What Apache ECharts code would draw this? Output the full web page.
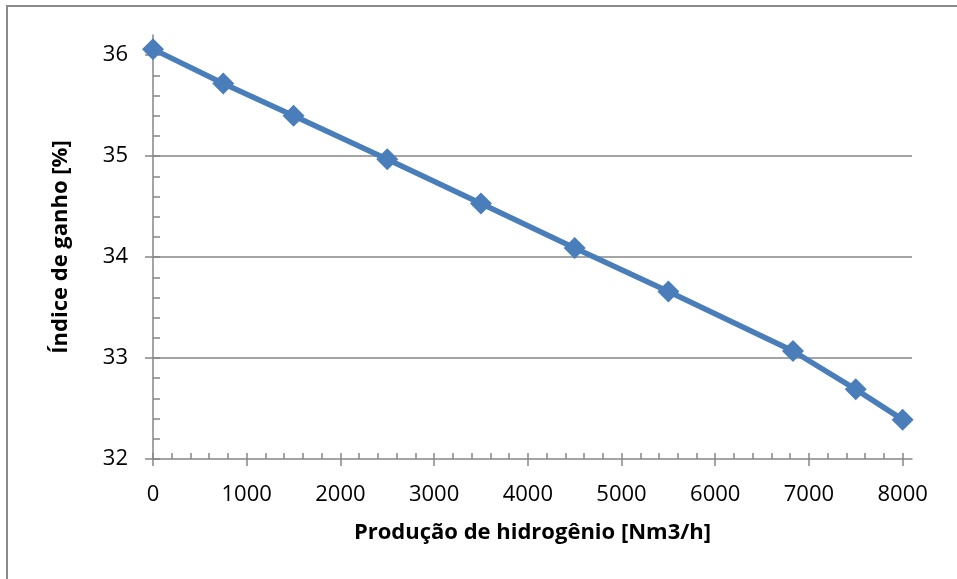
<!DOCTYPE html>
<html>
<head>
<meta charset="utf-8">
<script src="https://cdn.jsdelivr.net/npm/echarts@6/dist/echarts.min.js"></script>
<style>
  html, body { margin: 0; padding: 0; background: #fff; }
  #wrap { position: relative; width: 957px; height: 579px; overflow: hidden; }
  #chart { position: absolute; left: 0; top: 0; width: 957px; height: 579px; }
  #frame { position: absolute; left: 6px; top: 5px; width: 1200px; height: 1200px;
           border: 2px solid #8a8a8a; pointer-events: none; }
</style>
</head>
<body>
<div id="wrap">
  <div id="chart"></div>
  <div id="frame"></div>
</div>
<script>
// Produção de hidrogênio [Nm3/h]
const prodH2 = [0, 750, 1500, 2500, 3500, 4500, 5500, 6830, 7500, 8000];
// Índice de ganho [%]
const indiceGanho = [36.06, 35.72, 35.40, 34.97, 34.53, 34.09, 33.66, 33.07, 32.69, 32.39];

const xTickLabels = [0, 1000, 2000, 3000, 4000, 5000, 6000, 7000, 8000];
const yTickLabels = [32, 33, 34, 35, 36];

// minor tick positions (every 200 on x, every 0.2 on y)
const xMinor = [];
for (let v = 0; v <= 8000; v += 200) xMinor.push(v);
const yMinor = [];
for (let i = 0; i <= 20; i++) yMinor.push(Math.round((32 + 0.2 * i) * 10) / 10);

const gray = '#868686';
const labelFont = { fontFamily: 'Open Sans', fontSize: 22, color: '#000' };
const titleFont = { fontFamily: 'Open Sans', fontSize: 22, fontWeight: 'bold', color: '#000' };
const plain = (v) => String(v);

const chart = echarts.init(document.getElementById('chart'), null, { renderer: 'canvas' });
chart.setOption({
  animation: false,
  backgroundColor: '#fff',
  grid: { left: 153, right: 45, top: 35, bottom: 120, containLabel: false },
  xAxis: [
    {
      type: 'value', position: 'bottom', min: 0, max: 8100,
      name: 'Produção de hidrogênio [Nm3/h]', nameLocation: 'middle', nameGap: 63,
      nameTextStyle: titleFont,
      axisLine: { show: true, lineStyle: { color: gray, width: 1.5 } },
      axisTick: { show: true, inside: false, length: 7, customValues: xTickLabels,
                  lineStyle: { color: gray, width: 1.5 } },
      axisLabel: Object.assign({ margin: 25, customValues: xTickLabels, formatter: plain }, labelFont),
      splitLine: { show: false }
    },
    {
      type: 'value', position: 'bottom', min: 0, max: 8100,
      axisLine: { show: false },
      axisTick: { show: true, inside: true, length: 6, customValues: xMinor,
                  lineStyle: { color: gray, width: 1.5 } },
      axisLabel: { show: false },
      splitLine: { show: false }
    }
  ],
  yAxis: [
    {
      type: 'value', position: 'left', min: 32, max: 36.2, interval: 1,
      name: 'Índice de ganho [%]', nameLocation: 'middle', nameGap: 81,
      nameTextStyle: titleFont,
      axisLine: { show: true, lineStyle: { color: gray, width: 1.5 } },
      axisTick: { show: true, inside: false, length: 8, customValues: yTickLabels,
                  lineStyle: { color: gray, width: 1.5 } },
      axisLabel: Object.assign({ margin: 25, customValues: yTickLabels, formatter: plain }, labelFont),
      splitLine: { show: true, showMinLine: false, showMaxLine: false,
                   lineStyle: { color: gray, width: 1.5 } }
    },
    {
      type: 'value', position: 'left', min: 32, max: 36.2,
      axisLine: { show: false },
      axisTick: { show: true, inside: true, length: 7, customValues: yMinor,
                  lineStyle: { color: gray, width: 1.5 } },
      axisLabel: { show: false },
      splitLine: { show: false }
    }
  ],
  series: [
    {
      type: 'line',
      xAxisIndex: 0, yAxisIndex: 0,
      data: prodH2.map((x, i) => [x, indiceGanho[i]]),
      symbol: 'diamond', symbolSize: 22,
      lineStyle: { color: '#4a7ebb', width: 5.5 },
      itemStyle: { color: '#4a7ebb' },
      z: 5
    }
  ]
});
</script>
</body>
</html>
